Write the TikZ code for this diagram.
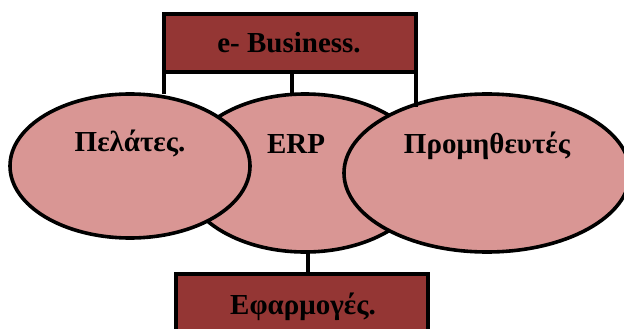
\documentclass[tikz,border=0pt]{standalone}
\usepackage{fontspec}
\setmainfont{Liberation Serif}
\usetikzlibrary{shapes.geometric}
\definecolor{boxred}{RGB}{148,54,52}
\definecolor{ellred}{RGB}{217,150,148}
\tikzset{
  px/.style={x=1pt,y=-1pt},
  ell/.style={ellipse,draw=black,line width=3.6pt,fill=ellred,inner sep=0pt},
  boxn/.style={rectangle,draw=black,line width=3.6pt,fill=boxred,inner sep=0pt},
  lab/.style={font=\bfseries\fontsize{29}{32}\selectfont,text=black,inner sep=0pt},
  conn/.style={draw=black,line width=3.4pt}
}
\begin{document}
\begin{tikzpicture}[px]
\useasboundingbox (0,0) rectangle (624,329);
\node[boxn,minimum width=252pt,minimum height=58pt] (eb) at (290,43) {};
\node[boxn,minimum width=252pt,minimum height=70pt] (ef) at (302,309) {};
\coordinate (c1) at (164,72);
\coordinate (c2) at (292,72);
\coordinate (c3) at (416,72);
\coordinate (d1) at (164,94);
\coordinate (d2) at (292,94);
\coordinate (d3) at (416,107);
\coordinate (e1) at (308,250);
\coordinate (e2) at (308,274);
\draw[conn] (c1) -- (d1);
\draw[conn] (c2) -- (d2);
\draw[conn] (e1) -- (e2);
\node[ell,minimum width=246pt,minimum height=158pt] (erp) at (305,173) {};
\node[ell,minimum width=240pt,minimum height=144pt] (pel) at (130,166) {};
\node[ell,minimum width=286pt,minimum height=158pt] (pro) at (487,173) {};
\draw[conn] (c3) -- (d3);
\node[lab] (t1) at (289,43) {e- Business.};
\node[lab] (t2) at (303,307) {Εφαρμογές.};
\node[lab] (t3) at (130,143) {Πελάτες.};
\node[lab] (t4) at (296,144) {ERP};
\node[lab] (t5) at (487,146) {Προμηθευτές};
\end{tikzpicture}
\end{document}
